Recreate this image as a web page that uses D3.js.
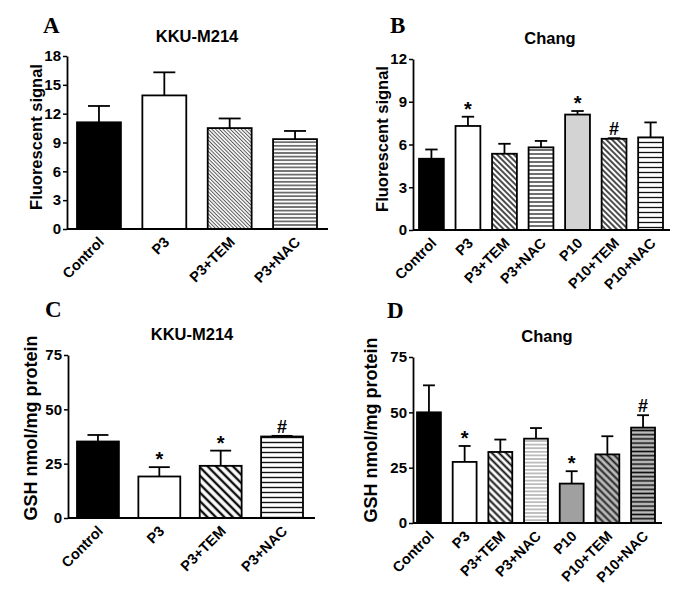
<!DOCTYPE html>
<html><head><meta charset="utf-8">
<script src="https://cdn.jsdelivr.net/npm/d3@7"></script>
<style>
body{margin:0;background:#fff;}
svg text{font-family:"Liberation Sans",Arial,sans-serif;font-weight:bold;}
</style></head>
<body>
<svg id="chart" width="685" height="614"></svg>
<script>
// ---- data ----
const catsKKU = ["Control", "P3", "P3+TEM", "P3+NAC"];
const catsChang = ["Control", "P3", "P3+TEM", "P3+NAC", "P10", "P10+TEM", "P10+NAC"];

const valuesA = [11.1, 13.9, 10.5, 9.35];
const errorsA = [1.7, 2.4, 1.0, 0.85];
const marksA = ["", "", "", ""];
const ticksA = [0, 3, 6, 9, 12, 15, 18];

const valuesB = [5.0, 7.3, 5.35, 5.8, 8.1, 6.4, 6.5];
const errorsB = [0.65, 0.65, 0.7, 0.45, 0.25, 0.04, 1.05];
const marksB = ["", "*", "", "", "*", "#", ""];
const ticksB = [0, 3, 6, 9, 12];

const valuesC = [35.2, 19.1, 24.0, 37.5];
const errorsC = [3.0, 4.3, 7.0, 0.3];
const marksC = ["", "*", "*", "#"];
const ticksC = [0, 25, 50, 75];

const valuesD = [50.0, 27.6, 32.1, 38.1, 17.8, 31.0, 43.1];
const errorsD = [12.2, 7.2, 5.6, 4.8, 5.6, 8.2, 5.6];
const marksD = ["", "*", "", "", "*", "", "#"];
const ticksD = [0, 25, 50, 75];

const svg = d3.select("#chart");
const defs = svg.append("defs");

// ---- patterns ----
function diag(id, gap, sw, color, bg) {
  const p = defs.append("pattern").attr("id", id).attr("patternUnits", "userSpaceOnUse")
    .attr("width", gap).attr("height", gap).attr("patternTransform", "rotate(45)");
  p.append("rect").attr("width", gap).attr("height", gap).attr("fill", bg);
  p.append("line").attr("x1", 0).attr("x2", gap).attr("y1", gap / 2).attr("y2", gap / 2)
    .attr("stroke", color).attr("stroke-width", sw);
}
function horiz(id, gap, sw, color, bg) {
  const p = defs.append("pattern").attr("id", id).attr("patternUnits", "userSpaceOnUse")
    .attr("width", 8).attr("height", gap);
  p.append("rect").attr("width", 8).attr("height", gap).attr("fill", bg);
  p.append("line").attr("x1", 0).attr("x2", 8).attr("y1", gap / 2).attr("y2", gap / 2)
    .attr("stroke", color).attr("stroke-width", sw);
}
diag("dA", 2.6, 1, "#555", "#fff");
horiz("hA", 3.6, 1.1, "#111", "#fff");
diag("dB", 4, 1.5, "#111", "#fff");
horiz("hB", 4, 1.2, "#111", "#fff");
horiz("hB2", 5, 1.3, "#111", "#fff");
diag("dC", 6, 2.4, "#111", "#fff");
horiz("hC", 5, 1.4, "#111", "#fff");
diag("dD", 5, 2, "#111", "#fff");
horiz("hD", 3.6, 1.2, "#999", "#fff");
diag("dD2", 5, 2, "#222", "#bbb");
horiz("hD2", 4.2, 1.6, "#111", "#bbb");

const fillsA = ["#000", "#fff", "url(#dA)", "url(#hA)"];
const fillsB = ["#000", "#fff", "url(#dB)", "url(#hB)", "#d3d3d3", "url(#dB)", "url(#hB2)"];
const fillsC = ["#000", "#fff", "url(#dC)", "url(#hC)"];
const fillsD = ["#000", "#fff", "url(#dD)", "url(#hD)", "#a0a0a0", "url(#dD2)", "url(#hD2)"];

const panels = [
  {letter: "A", lx: 43, ly: 33, title: "KKU-M214", tx: 197, ty: 42, ylabel: "Fluorescent signal", ylx: 42, yly: 137, yfs: 16.5,
   cats: catsKKU, vals: valuesA, errs: errorsA, marks: marksA, ticks: ticksA, fills: fillsA,
   axisX: 67, xEnd: 328, bx0: 77, bx1: 317, pad: 0.328, y0: 229, yTop: 56, max: 18},
  {letter: "B", lx: 390, ly: 33, title: "Chang", tx: 550, ty: 44, ylabel: "Fluorescent signal", ylx: 388, yly: 139, yfs: 16.5,
   cats: catsChang, vals: valuesB, errs: errorsB, marks: marksB, ticks: ticksB, fills: fillsB,
   axisX: 413, xEnd: 670, bx0: 419, bx1: 663, pad: 0.32, y0: 230, yTop: 59, max: 12},
  {letter: "C", lx: 45, ly: 317, title: "KKU-M214", tx: 192, ty: 340, ylabel: "GSH nmol/mg protein", ylx: 37, yly: 428, yfs: 18,
   cats: catsKKU, vals: valuesC, errs: errorsC, marks: marksC, ticks: ticksC, fills: fillsC,
   axisX: 68, xEnd: 315, bx0: 77, bx1: 303, pad: 0.317, y0: 518, yTop: 355, max: 75},
  {letter: "D", lx: 387, ly: 318, title: "Chang", tx: 547, ty: 342, ylabel: "GSH nmol/mg protein", ylx: 377, yly: 430, yfs: 18,
   cats: catsChang, vals: valuesD, errs: errorsD, marks: marksD, ticks: ticksD, fills: fillsD,
   axisX: 413, xEnd: 662, bx0: 417, bx1: 655, pad: 0.33, y0: 523, yTop: 357, max: 75}
];

panels.forEach(p => {
  const g = svg.append("g");
  const x = d3.scaleBand().domain(p.cats).range([p.bx0, p.bx1]).paddingInner(p.pad).paddingOuter(0);
  const y = d3.scaleLinear().domain([0, p.max]).range([p.y0, p.yTop]);

  g.append("text").attr("x", p.lx).attr("y", p.ly).text(p.letter)
    .style("font-family", "'Liberation Serif','Times New Roman',serif").style("font-size", "23px");
  g.append("text").attr("x", p.tx).attr("y", p.ty).attr("text-anchor", "middle")
    .style("font-size", "16.5px").text(p.title);
  g.append("text").attr("transform", `translate(${p.ylx},${p.yly}) rotate(-90)`)
    .attr("text-anchor", "middle").style("font-size", p.yfs + "px").text(p.ylabel);

  const data = p.cats.map((c, i) => ({c, v: p.vals[i], e: p.errs[i], m: p.marks[i], f: p.fills[i]}));

  const eb = g.selectAll(".eb").data(data).enter().append("g");
  eb.append("line").attr("x1", d => x(d.c) + x.bandwidth() / 2).attr("x2", d => x(d.c) + x.bandwidth() / 2)
    .attr("y1", d => y(d.v)).attr("y2", d => y(d.v + d.e)).attr("stroke", "#000").attr("stroke-width", 1.8);
  eb.append("line").attr("x1", d => x(d.c) + x.bandwidth() / 4).attr("x2", d => x(d.c) + 3 * x.bandwidth() / 4)
    .attr("y1", d => y(d.v + d.e)).attr("y2", d => y(d.v + d.e)).attr("stroke", "#000").attr("stroke-width", 1.8);

  g.selectAll(".bar").data(data).enter().append("rect")
    .attr("x", d => x(d.c)).attr("width", x.bandwidth())
    .attr("y", d => y(d.v)).attr("height", d => y(0) - y(d.v))
    .attr("fill", d => d.f).attr("stroke", "#000").attr("stroke-width", 1.8);

  g.selectAll(".mk").data(data.filter(d => d.m)).enter().append("text")
    .attr("x", d => x(d.c) + x.bandwidth() / 2)
    .attr("y", d => d.m === "*" ? y(d.v + d.e) - 1 : y(d.v + d.e) - 3)
    .attr("text-anchor", "middle").style("font-size", d => d.m === "*" ? "20px" : "18px").text(d => d.m);

  const ya = g.append("g").attr("transform", `translate(${p.axisX},0)`)
    .call(d3.axisLeft(y).tickValues(p.ticks).tickSize(4).tickPadding(2).tickSizeOuter(0));
  ya.select(".domain").attr("stroke", "#000").attr("stroke-width", 1.8);
  ya.selectAll(".tick line").attr("stroke", "#000").attr("stroke-width", 1.5);
  ya.selectAll(".tick text").style("font-size", "15px").style("font-family", "'Liberation Sans',Arial,sans-serif").attr("fill", "#000");

  g.append("line").attr("x1", p.axisX).attr("x2", p.xEnd).attr("y1", p.y0).attr("y2", p.y0)
    .attr("stroke", "#000").attr("stroke-width", 1.8);

  g.selectAll(".xl").data(p.cats).enter().append("text")
    .attr("transform", c => `translate(${x(c) + x.bandwidth() / 2 + 6},${p.y0 + 14}) rotate(-45)`)
    .attr("text-anchor", "end").style("font-size", "14.5px").text(c => c);
});
</script>
</body></html>
